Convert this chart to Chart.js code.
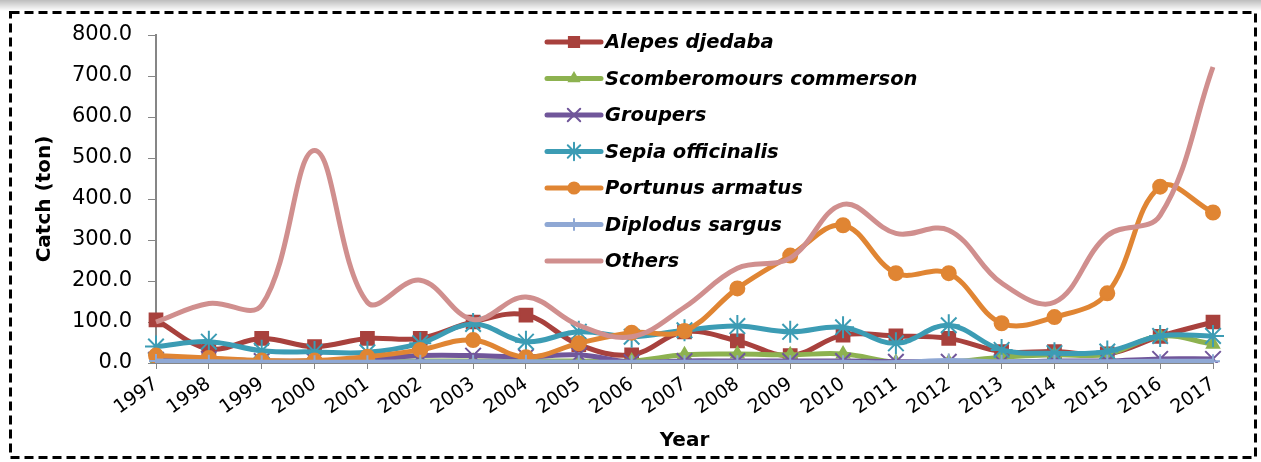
<!DOCTYPE html>
<html>
<head>
<meta charset="utf-8">
<script src="https://cdn.jsdelivr.net/npm/chart.js@4.4.1/dist/chart.umd.min.js"></script>
<style>
  body { margin: 0; background: #fff; }
  canvas { display: block; }
</style>
</head>
<body>
<canvas id="chart" width="1261" height="462"></canvas>
<script>
const years = ['1997','1998','1999','2000','2001','2002','2003','2004','2005','2006','2007',
               '2008','2009','2010','2011','2012','2013','2014','2015','2016','2017'];

const alepes     = [105, 35, 60, 40, 60, 60, 100, 117, 45, 20, 76, 54, 18, 68, 66, 60, 28, 28, 22, 65, 100];
const scomber    = [5, 3, 3, 3, 3, 5, 5, 5, 5, 5, 20, 22, 20, 22, 2, 2, 14, 20, 22, 66, 46];
const groupers   = [8, 10, 5, 5, 8, 18, 18, 15, 20, 2, 5, 5, 5, 5, 3, 3, 2, 5, 5, 10, 10];
const sepia      = [40, 52, 30, 27, 26, 48, 95, 52, 76, 64, 80, 90, 76, 87, 48, 92, 32, 24, 28, 66, 66];
const portunus   = [18, 12, 6, 6, 15, 32, 56, 14, 48, 74, 78, 182, 262, 336, 219, 219, 97, 112, 170, 430, 367];
const diplodus   = [5, 3, 2, 2, 2, 3, 3, 3, 2, 2, 2, 2, 2, 2, 1, 6, 3, 3, 3, 4, 4];
const others     = [100, 145, 141, 518, 148, 202, 106, 161, 92, 64, 136, 231, 256, 387, 316, 324, 195, 148, 311, 360, 722];

const yTicks = [0, 100, 200, 300, 400, 500, 600, 700, 800];

const series = [
  { label: 'Alepes djedaba', data: alepes, color: '#a8413d', style: 'rect', radius: 9, order: 6 },
  { label: 'Scomberomours commerson', data: scomber, color: '#8db250', style: 'triangle', radius: 7, order: 5 },
  { label: 'Groupers', data: groupers, color: '#70569a', style: 'crossRot', radius: 11, order: 4 },
  { label: 'Sepia officinalis', data: sepia, color: '#3c9cb4', style: 'star', radius: 11, order: 3 },
  { label: 'Portunus armatus', data: portunus, color: '#e08533', style: 'circle', radius: 7, order: 2 },
  { label: 'Diplodus sargus', data: diplodus, color: '#8fa8d4', style: 'cross', radius: 7, order: 1 },
  { label: 'Others', data: others, color: '#d08f8e', style: false, radius: 0, order: 0 }
];

// page frame: shadow strip and dashed border
const framePlugin = {
  id: 'frame',
  beforeDraw(chart) {
    const ctx = chart.ctx;
    ctx.save();
    ctx.fillStyle = '#fff';
    ctx.fillRect(0, 0, chart.width, chart.height);
    const g = ctx.createLinearGradient(0, 0, 0, 11);
    g.addColorStop(0, '#bdbdbd');
    g.addColorStop(1, '#ffffff');
    ctx.fillStyle = g;
    ctx.fillRect(0, 0, chart.width, 11);
    ctx.strokeStyle = '#000';
    ctx.lineWidth = 3;
    ctx.setLineDash([9, 5]);
    ctx.strokeRect(10.5, 12.5, 1245, 445);
    ctx.restore();
  }
};

// vertical legend inside the plot, like the original
const legendPlugin = {
  id: 'sideLegend',
  afterDraw(chart) {
    const ctx = chart.ctx;
    const x0 = 547, x1 = 601, top = 42, step = 36.5;
    ctx.save();
    series.forEach((s, i) => {
      const y = top + i * step;
      ctx.strokeStyle = s.color;
      ctx.fillStyle = s.color;
      ctx.lineWidth = 5;
      ctx.lineCap = 'round';
      ctx.beginPath();
      ctx.moveTo(x0, y);
      ctx.lineTo(x1, y);
      ctx.stroke();
      if (s.style) {
        ctx.lineWidth = 2;
        Chart.helpers.drawPoint(ctx, { pointStyle: s.style, radius: s.radius * 0.8, rotation: 0, borderWidth: 2 }, (x0 + x1) / 2, y);
      }
      ctx.fillStyle = '#000';
      ctx.font = 'italic bold 19.5px "DejaVu Sans"';
      ctx.textBaseline = 'middle';
      ctx.fillText(s.label, 605, y + 1);
    });
    ctx.restore();
  }
};

new Chart(document.getElementById('chart').getContext('2d'), {
  type: 'line',
  data: {
    labels: years,
    datasets: series.map(s => ({
      label: s.label,
      data: s.data,
      borderColor: s.color,
      backgroundColor: s.color,
      borderWidth: 5,
      tension: 0.38,
      pointStyle: s.style,
      pointRadius: s.radius,
      pointBorderWidth: 2,
      order: s.order,
      fill: false
    }))
  },
  options: {
    responsive: false,
    animation: false,
    devicePixelRatio: 1,
    layout: { padding: { left: 0, right: 48, top: 35, bottom: 0 } },
    plugins: {
      legend: { display: false },
      tooltip: { enabled: false }
    },
    scales: {
      x: {
        grid: { display: true, drawOnChartArea: false, color: '#868686', tickLength: 6 },
        border: { display: true, color: '#868686', width: 2 },
        ticks: {
          color: '#000',
          font: { family: 'DejaVu Sans', size: 19 },
          minRotation: 35,
          maxRotation: 35,
          autoSkip: false,
          padding: 4
        },
        title: {
          display: true,
          text: 'Year',
          color: '#000',
          font: { family: 'DejaVu Sans', size: 20, weight: 'bold' },
          padding: { top: 0, bottom: 9 }
        },
        afterFit(scale) { scale.height = 99; }
      },
      y: {
        min: 0,
        max: 800,
        afterBuildTicks(scale) { scale.ticks = yTicks.map(v => ({ value: v })); },
        grid: { display: true, drawOnChartArea: false, color: '#868686', tickLength: 8 },
        border: { display: true, color: '#868686', width: 2 },
        ticks: {
          color: '#000',
          font: { family: 'DejaVu Sans', size: 21 },
          padding: 16,
          callback: v => v.toFixed(1)
        },
        title: {
          display: true,
          text: 'Catch (ton)',
          color: '#000',
          font: { family: 'DejaVu Sans', size: 20, weight: 'bold' },
          padding: 33
        },
        afterFit(scale) { scale.width = 156; }
      }
    }
  },
  plugins: [framePlugin, legendPlugin]
});
</script>
</body>
</html>
